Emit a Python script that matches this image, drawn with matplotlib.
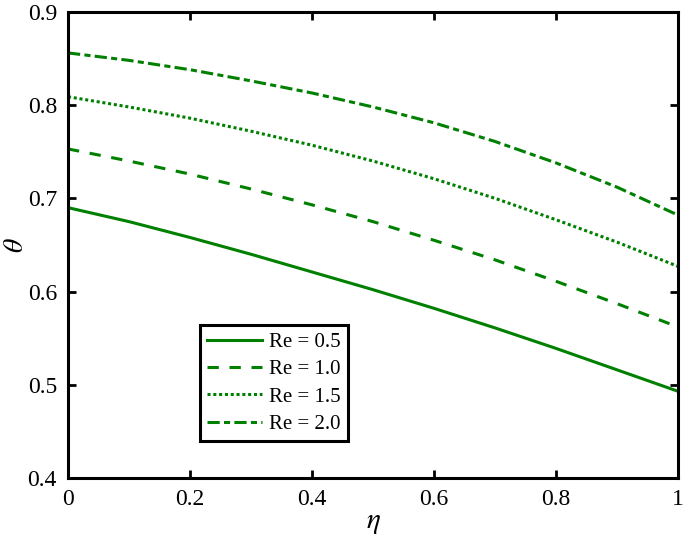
import matplotlib.pyplot as plt
import numpy as np

plt.rcParams['font.family'] = ['Liberation Serif', 'DejaVu Serif']
plt.rcParams['mathtext.fontset'] = 'stix'

# 読み取った値
eta = [0.0, 0.1, 0.2, 0.3, 0.4, 0.5, 0.6, 0.7, 0.8, 0.9, 1.0]
re_05 = [0.690, 0.675, 0.658, 0.640, 0.621, 0.602, 0.582, 0.561, 0.539, 0.516, 0.493]
re_10 = [0.753, 0.740, 0.726, 0.710, 0.693, 0.675, 0.655, 0.634, 0.611, 0.587, 0.562]
re_15 = [0.809, 0.798, 0.786, 0.772, 0.757, 0.740, 0.721, 0.700, 0.677, 0.653, 0.627]
re_20 = [0.856, 0.848, 0.838, 0.826, 0.813, 0.798, 0.781, 0.761, 0.738, 0.712, 0.682]
labels = ["Re = 0.5", "Re = 1.0", "Re = 1.5", "Re = 2.0"]

fig = plt.figure(figsize=(6.85, 5.41), dpi=100)
ax = fig.add_axes([0.0993, 0.1165, 0.8905, 0.8615])

c = "#008000"
lw = 2.2
ax.plot(eta, re_05, color=c, lw=lw, linestyle="-", label=labels[0])
ax.plot(eta, re_10, color=c, lw=lw, linestyle=(0, (3.7, 3.5)), label=labels[1])
ax.plot(eta, re_15, color=c, lw=lw, linestyle=(0, (1.0, 0.9)), label=labels[2])
ax.plot(eta, re_20, color=c, lw=lw, linestyle=(0, (4.0, 1.4, 2.0, 1.4)), label=labels[3])

ax.set_xlim(0, 1)
ax.set_ylim(0.4, 0.9)
ax.set_xticks([0, 0.2, 0.4, 0.6, 0.8, 1])
ax.set_xticklabels(["0", "0.2", "0.4", "0.6", "0.8", "1"])
ax.set_yticks([0.4, 0.5, 0.6, 0.7, 0.8, 0.9])
ax.tick_params(direction="in", top=True, right=True, labelsize=17, width=2, length=6, pad=8)
for s in ax.spines.values():
    s.set_linewidth(2.2)

ax.set_xlabel(r"$\eta$", fontsize=21, labelpad=0)
ax.set_ylabel(r"$\theta$", fontsize=20, labelpad=-1)

leg = ax.legend(loc="lower left", bbox_to_anchor=(0.216, 0.079), borderaxespad=0,
                fontsize=15, frameon=True, fancybox=False, framealpha=1,
                handlelength=2.65, borderpad=0.35, labelspacing=0.37, handletextpad=0.33)
leg.get_frame().set_edgecolor("black")
leg.get_frame().set_linewidth(2.2)

fig.savefig("out.png", dpi=100)
